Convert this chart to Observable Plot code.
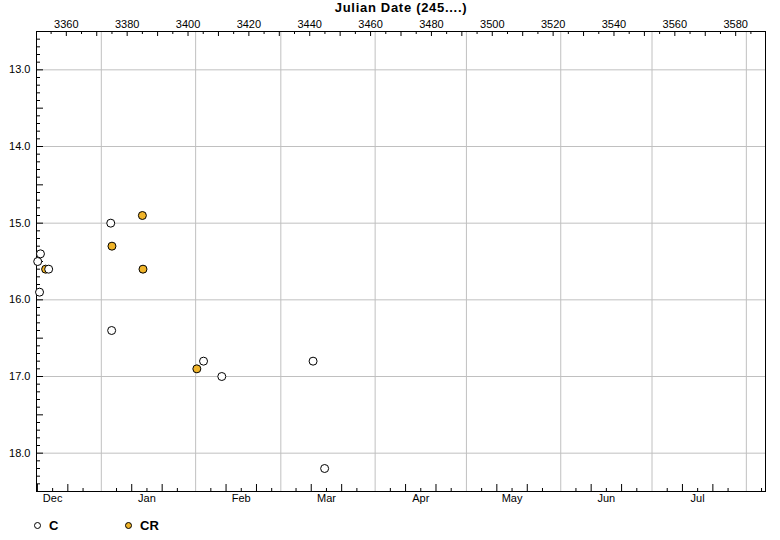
<!DOCTYPE html>
<html><head><meta charset="utf-8">
<script src="https://cdn.jsdelivr.net/npm/d3@7"></script>
<script src="https://cdn.jsdelivr.net/npm/@observablehq/plot@0.6"></script>
<style>
body{margin:0;background:#fff;font-family:"Liberation Sans",Arial,sans-serif;}
#chart svg{display:block;}
#legend{position:relative;height:28px;width:780px;font-weight:bold;font-size:13px;color:#000;}
.item{position:absolute;top:6px;display:flex;align-items:center;}
.dot{width:7px;height:7px;border:1px solid #000;border-radius:50%;margin-right:8px;box-sizing:border-box;}
</style></head><body>
<div id="chart"></div>
<div id="legend"></div>
<script>
// Data (JD - 2450000 offset shown as 245....)
const cJD  = [3350.6, 3351.5, 3351.2, 3354.2, 3374.6, 3374.9, 3405.1, 3411.1, 3441.1, 3444.9];
const cMag = [15.5,   15.4,   15.9,   15.6,   15.0,   16.4,   16.8,   17.0,   16.8,   18.2];
const crJD  = [3353.2, 3375.0, 3385.0, 3385.2, 3402.9];
const crMag = [15.6,   15.3,   14.9,   15.6,   16.9];
const jdTicks = [3360,3380,3400,3420,3440,3460,3480,3500,3520,3540,3560,3580];
const magTicks = [13,14,15,16,17,18];
const monthNames = ["Dec","Jan","Feb","Mar","Apr","May","Jun","Jul"];
const monthStartJD = [3340.5,3371.5,3402.5,3430.5,3461.5,3491.5,3522.5,3552.5,3583.5];
const seriesNames = ["C","CR"];
const seriesColors = ["#ffffff","#f0b429"];

const W = 780, H = 512;
const mT = 31, mL = 36, mR = 15, mB = 21;
const innerW = W - mL - mR, innerH = H - mT - mB;
const xDom = [3350.2, 3589.8];
const yDom = [12.5, 18.5];

const cData = cJD.map((x,i)=>({x, y:cMag[i]}));
const crData = crJD.map((x,i)=>({x, y:crMag[i]}));

// tick sets
const topMinor = d3.range(3355, 3590, 5).filter(v => v % 10 !== 0);
const topTen = d3.range(3360, 3590, 10);
const yMinor = d3.range(126, 185, 1).map(v=>v/10).filter(v => Math.round(v*10)%5 !== 0);
const yHalf = d3.range(125, 186, 5).map(v=>v/10);
const botShort = [], botLong = [];
monthStartJD.forEach(s => {
  [5,15,25].forEach(d => { if (s+d > xDom[0] && s+d < xDom[1]) botShort.push(s+d); });
  [10,20].forEach(d => { if (s+d > xDom[0] && s+d < xDom[1]) botLong.push(s+d); });
});
const gridX = monthStartJD.filter(v => v > xDom[0] && v < xDom[1]);
const monthLabels = monthNames.map((m,i)=>({m, x: monthStartJD[i] + 15}));

const chart = Plot.plot({
  width: W, height: H,
  marginTop: mT, marginLeft: mL, marginRight: mR, marginBottom: mB,
  style: {fontFamily: '"Liberation Sans", Arial, sans-serif', fontSize: "11px", background: "#fff", color: "#000"},
  x: {domain: xDom},
  y: {domain: yDom, reverse: true},
  marks: [
    Plot.ruleX(gridX, {x: d=>d, stroke: "#c0c0c0", strokeWidth: 1}),
    Plot.ruleY(magTicks, {y: d=>d, stroke: "#c0c0c0", strokeWidth: 1}),
    // top ticks (inward)
    Plot.ruleX(topMinor, {x: d=>d, insetBottom: innerH - 3, stroke: "#000"}),
    Plot.ruleX(topTen, {x: d=>d, insetBottom: innerH - 5, stroke: "#000"}),
    // bottom ticks (inward)
    Plot.ruleX(botShort, {x: d=>d, insetTop: innerH - 3, stroke: "#000"}),
    Plot.ruleX(botLong, {x: d=>d, insetTop: innerH - 7, stroke: "#000"}),
    // left ticks (inward)
    Plot.ruleY(yMinor, {y: d=>d, insetRight: innerW - 4, stroke: "#000"}),
    Plot.ruleY(yHalf, {y: d=>d, insetRight: innerW - 7, stroke: "#000"}),
    Plot.frame({stroke: "#000", strokeWidth: 1}),
    Plot.axisX({anchor: "top", ticks: jdTicks, tickSize: 0, tickPadding: 4, tickFormat: d=>String(d), label: "Julian Date (245....)", labelAnchor: "center", labelOffset: 29, labelArrow: "none", fontSize: 11}),
    Plot.axisY({anchor: "left", ticks: magTicks, tickSize: 0, tickPadding: 6, tickFormat: d=>d.toFixed(1), label: null, fontSize: 11}),
    Plot.text(monthLabels, {x: "x", text: "m", frameAnchor: "bottom", dy: 10, fontSize: 11, fill: "#000"}),
    Plot.dot(crData, {x: "x", y: "y", r: 4, fill: seriesColors[1], stroke: "#000", strokeWidth: 1}),
    Plot.dot(cData, {x: "x", y: "y", r: 4, fill: seriesColors[0], stroke: "#000", strokeWidth: 1})
  ]
});
document.getElementById("chart").appendChild(chart);
// bold axis title
chart.querySelectorAll("g[aria-label='x-axis label'] text").forEach(t => {
  t.setAttribute("font-weight","bold"); t.setAttribute("font-size","13"); t.setAttribute("letter-spacing","0.7");
});

const leg = document.getElementById("legend");
const legX = [34, 125];
seriesNames.forEach((n,i)=>{
  const it = document.createElement("div");
  it.className = "item"; it.style.left = legX[i] + "px";
  const d = document.createElement("span"); d.className = "dot"; d.style.background = seriesColors[i];
  const t = document.createElement("span"); t.textContent = n;
  it.appendChild(d); it.appendChild(t); leg.appendChild(it);
});
</script>
</body></html>
